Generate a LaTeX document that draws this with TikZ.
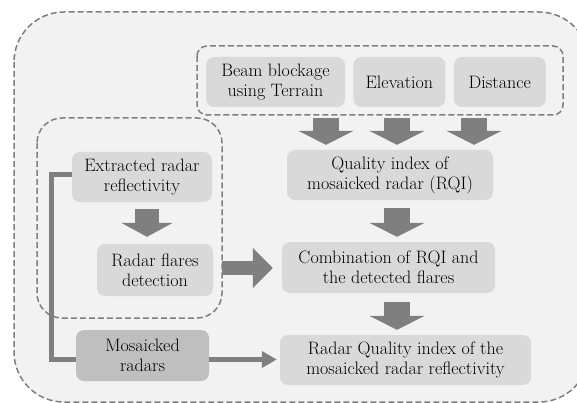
\documentclass[tikz,border=0pt]{standalone}
\usepackage{tikz}
\usetikzlibrary{positioning,arrows.meta}
\definecolor{boxgray}{HTML}{D9D9D9}
\definecolor{darkboxgray}{HTML}{BFBFBF}
\definecolor{arrowgray}{HTML}{7F7F7F}
\definecolor{backgray}{HTML}{F2F2F2}

\begin{document}
\begin{tikzpicture}[x=1pt, y=-1pt, font=\fontsize{18}{20}\selectfont,
    main/.style = {fill=boxgray, rounded corners=8pt, align=center, inner sep=0pt, minimum height=50pt},
    dark/.style = {main, fill=darkboxgray},
    groupbox/.style = {draw=arrowgray, line width=1.5pt, dash pattern=on 6pt off 3pt},
    blockdown/.style = {arrowgray, line width=26pt, -{Triangle[length=14pt, width=55pt]}},
    blockright/.style = {arrowgray, line width=14pt, -{Triangle[length=20pt, width=39pt]}},
    feed/.style = {arrowgray, line width=5pt}]
        \clip (0,0) rectangle (577,403);
        % Groups
        \draw[groupbox, fill=backgray, rounded corners=50pt] (14,12) rectangle (589,402);
        \draw[groupbox, rounded corners=10pt] (197,46) rectangle (563,115);
        \draw[groupbox, rounded corners=25pt] (37,118) rectangle (222,318);
        % Nodes
        \node[main, minimum width=139pt] (beam) at (275.5,82) {Beam blockage\\using Terrain};
        \node[main, minimum width=92pt] (elev) [right=8pt of beam] {Elevation};
        \node[main, minimum width=92pt] (dist) [right=8pt of elev] {Distance};
        \node[main, minimum width=206pt] (qi) at (390,175) {Quality index of\\mosaicked radar (RQI)};
        \node[main, minimum width=213pt, minimum height=51pt] (comb) at (388.5,267.5) {Combination of RQI and\\the detected flares};
        \node[main, minimum width=251pt] (rqi) at (405.5,360) {Radar Quality index of the\\mosaicked radar reflectivity};
        \node[main, minimum width=140pt] (ext) at (142,177) {Extracted radar\\reflectivity};
        \node[main, minimum width=116pt, minimum height=52pt] (flares) at (155,270) {Radar flares\\detection};
        \node[dark, minimum width=133pt, minimum height=51pt] (mos) at (142.5,355.5) {Mosaicked\\radars};
        % Edges
        \draw[blockdown] ([xshift=-64pt,yshift=32pt]qi.north) -- ([xshift=-64pt,yshift=5pt]qi.north);
        \draw[blockdown] ([xshift=7pt,yshift=32pt]qi.north) -- ([xshift=7pt,yshift=5pt]qi.north);
        \draw[blockdown] ([xshift=84pt,yshift=32pt]qi.north) -- ([xshift=84pt,yshift=5pt]qi.north);
        \draw[blockdown] ([xshift=7pt,yshift=-8pt]qi.south) -- ([xshift=8.5pt,yshift=5pt]comb.north);
        \draw[blockdown] ([xshift=8.5pt,yshift=-9pt]comb.south) -- ([xshift=-8.5pt,yshift=5pt]rqi.north);
        \draw[blockdown, line width=24pt, -{Triangle[length=14pt, width=51pt]}] ([xshift=5pt,yshift=-7pt]ext.south) -- ([xshift=-8pt,yshift=7pt]flares.north);
        \draw[blockright] ([xshift=9pt,yshift=2pt]flares.east) -- ([xshift=-9pt,yshift=2pt]flares.east -| comb.west);
        \draw[feed] ([yshift=2pt]ext.west) -- ++(-20,0) |- ([yshift=-4pt]mos.west);
        \draw[feed, -{Triangle[length=15pt, width=16pt]}] ([yshift=-4pt]mos.east) -- ([xshift=-3pt,yshift=-4pt]mos.east -| rqi.west);
    \end{tikzpicture}
\end{document}
